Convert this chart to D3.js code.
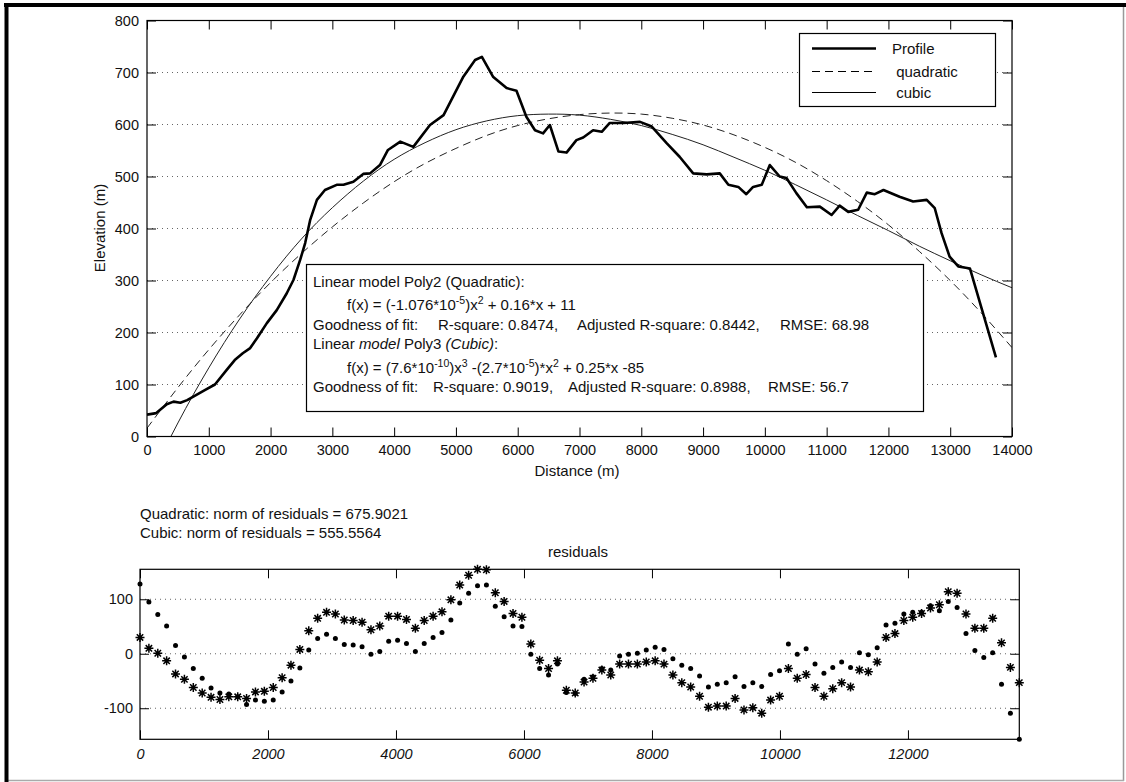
<!DOCTYPE html>
<html><head><meta charset="utf-8">
<script src="https://cdn.jsdelivr.net/npm/d3@7"></script>
<style>
html,body{margin:0;padding:0;background:#fff;}
text{font-family:"Liberation Sans",Arial,sans-serif;fill:#111;}
</style></head>
<body>
<svg id="chart" width="1126" height="782"></svg>
<script>
// ---------- data ----------
const profileDistance = [0,150,320,430,540,650,800,950,1100,1290,1420,1550,1670,1780,1940,2100,2260,2370,2480,2560,2640,2750,2880,3070,3180,3340,3500,3610,3770,3900,4100,4310,4580,4800,5120,5310,5420,5600,5820,5980,6140,6280,6410,6520,6660,6790,6950,7060,7220,7360,7490,7710,7980,8170,8410,8620,8840,9060,9270,9410,9570,9700,9810,9950,10080,10240,10350,10510,10680,10890,11080,11210,11350,11510,11650,11780,11920,12180,12400,12620,12750,12860,12990,13130,13320,13740];
const profileElevation = [42,45,62,67,65,70,80,90,100,128,147,160,170,189,218,243,275,301,340,372,416,455,474,484,484,490,505,506,522,551,567,557,599,618,692,724,730,692,670,665,615,589,583,599,548,546,570,575,589,586,603,603,605,596,564,538,506,504,506,484,480,466,480,484,522,500,497,468,441,442,426,444,432,436,469,466,474,461,452,455,439,391,346,327,323,152];

const fitDistance = [0,500,1000,1500,2000,2500,3000,3500,4000,4500,5000,5500,6000,6500,7000,7500,8000,8500,9000,9500,10000,10500,11000,11500,12000,12500,13000,13500,14000];
const quadraticFit = [16,94,167,234,296,352,403,449,490,525,554,579,598,611,619,622,620,612,599,580,556,527,492,452,407,356,300,238,171];
const cubicFit = [-92,26,132,226,308,380,440,491,533,565,590,607,617,620,618,610,598,581,561,537,512,484,455,425,396,366,338,311,286];

const residualDistance = [0,139,278,416,555,694,833,972,1110,1249,1388,1527,1665,1804,1943,2082,2221,2359,2498,2637,2776,2915,3053,3192,3331,3470,3609,3747,3886,4025,4164,4303,4441,4580,4719,4858,4996,5135,5274,5413,5552,5690,5829,5968,6107,6245,6384,6523,6662,6801,6939,7078,7217,7356,7495,7633,7772,7911,8050,8188,8327,8466,8605,8744,8882,9021,9160,9299,9438,9576,9715,9854,9993,10132,10270,10409,10548,10687,10825,10964,11103,11242,11381,11519,11658,11797,11936,12075,12213,12352,12491,12630,12768,12907,13046,13185,13324,13462,13601,13740];
const quadraticResiduals = [30,10,1,-13,-37,-47,-62,-72,-80,-84,-79,-79,-82,-70,-69,-62,-44,-21,8,42,65,76,73,62,61,58,44,51,69,69,63,47,61,69,77,99,126,144,155,154,112,96,74,67,18,-12,-27,-13,-67,-72,-52,-45,-30,-39,-19,-19,-19,-15,-13,-19,-39,-53,-61,-78,-98,-96,-96,-82,-103,-99,-109,-85,-78,-27,-45,-38,-62,-78,-64,-53,-61,-30,-33,-15,30,37,61,67,74,84,90,114,111,73,47,47,65,20,-25,-53];
const cubicResiduals = [128,95,72,51,15,-6,-27,-45,-63,-72,-74,-79,-93,-85,-87,-85,-70,-50,-26,7,28,36,28,17,16,13,-1,4,23,25,19,4,19,30,39,62,93,111,125,126,87,68,51,50,-1,-27,-39,-19,-71,-73,-47,-42,-27,-30,-4,-1,1,7,12,8,-9,-21,-27,-41,-61,-56,-53,-42,-60,-53,-60,-38,-31,18,-1,9,-19,-36,-25,-15,-25,2,-2,11,53,56,73,76,76,88,79,96,85,37,6,-7,2,-56,-109,-157];

const topXTicks = [0,1000,2000,3000,4000,5000,6000,7000,8000,9000,10000,11000,12000,13000,14000];
const topYTicks = [0,100,200,300,400,500,600,700,800];
const resXTicks = [0,2000,4000,6000,8000,10000,12000];
const resYTicks = [-100,0,100];

const legendLabels = ["Profile"," quadratic"," cubic"];
const normLines = ["Quadratic: norm of residuals = 675.9021","Cubic: norm of residuals = 555.5564"];

// ---------- drawing ----------
const svg = d3.select("#chart");
const F = 15;

// outer frame
svg.append("line").attr("x1",1123.5).attr("x2",1123.5).attr("y1",4).attr("y2",781).attr("stroke","#999").attr("stroke-width",1.5);
svg.append("line").attr("x1",5).attr("x2",1124).attr("y1",780.5).attr("y2",780.5).attr("stroke","#aaa").attr("stroke-width",1.5);
svg.append("line").attr("x1",4).attr("x2",1126).attr("y1",5).attr("y2",5).attr("stroke","#000").attr("stroke-width",4);
svg.append("line").attr("x1",6.5).attr("x2",6.5).attr("y1",3).attr("y2",782).attr("stroke","#000").attr("stroke-width",4);

// ---- top axes ----
const x = d3.scaleLinear().domain([0,14000]).range([147,1012]);
const y = d3.scaleLinear().domain([0,800]).range([436.5,20.5]);

svg.append("clipPath").attr("id","clipTop").append("rect")
  .attr("x",147).attr("y",20.5).attr("width",865).attr("height",416);

const gTop = svg.append("g");
gTop.selectAll(".grid").data(topYTicks.filter(d=>d>0&&d<800)).join("line")
  .attr("x1",147).attr("x2",1012).attr("y1",d=>y(d)).attr("y2",d=>y(d))
  .attr("stroke","#666").attr("stroke-width",1).attr("stroke-dasharray","1,4");

const lines = gTop.append("g").attr("clip-path","url(#clipTop)");
const lineQ = d3.line().x((d,i)=>x(fitDistance[i])).y(d=>y(d)).curve(d3.curveNatural);
lines.append("path").datum(quadraticFit).attr("d",lineQ).attr("fill","none")
  .attr("stroke","#222").attr("stroke-width",1).attr("stroke-dasharray","8,5");
lines.append("path").datum(cubicFit).attr("d",lineQ).attr("fill","none")
  .attr("stroke","#222").attr("stroke-width",1);
const lineP = d3.line().x((d,i)=>x(profileDistance[i])).y(d=>y(d));
lines.append("path").datum(profileElevation).attr("d",lineP).attr("fill","none")
  .attr("stroke","#000").attr("stroke-width",2.6).attr("stroke-linejoin","round");

function styleAxis(g, italic){
  g.select(".domain").remove();
  g.selectAll(".tick line").attr("stroke","#000");
  g.selectAll("text").attr("font-size",14.5).attr("fill","#111")
    .attr("font-family","'Liberation Sans',Arial,sans-serif")
    .attr("font-style", italic ? "italic" : "normal");
}
const fmt = d => String(d);
svg.append("g").attr("transform","translate(0,436.5)")
  .call(d3.axisBottom(x).tickValues(topXTicks).tickSize(-9).tickPadding(8).tickFormat(fmt)).call(g=>styleAxis(g,false));
svg.append("g").attr("transform","translate(0,20.5)")
  .call(d3.axisTop(x).tickValues(topXTicks).tickSize(-9).tickFormat("")).call(g=>styleAxis(g,false));
svg.append("g").attr("transform","translate(147,0)")
  .call(d3.axisLeft(y).tickValues(topYTicks).tickSize(-9).tickPadding(8).tickFormat(fmt)).call(g=>styleAxis(g,false));
svg.append("g").attr("transform","translate(1012,0)")
  .call(d3.axisRight(y).tickValues(topYTicks).tickSize(-9).tickFormat("")).call(g=>styleAxis(g,false));
svg.append("rect").attr("x",147).attr("y",20.5).attr("width",865).attr("height",416)
  .attr("fill","none").attr("stroke","#000").attr("stroke-width",1.2);

// legend
const lg = svg.append("g");
lg.append("rect").attr("x",799.5).attr("y",33.5).attr("width",196).attr("height",73)
  .attr("fill","#fff").attr("stroke","#000").attr("stroke-width",1.2);
const legY = [48.5,71.5,92.5];
const legStyle = [{w:2.6,dash:null},{w:1,dash:"8,5"},{w:1,dash:null}];
legendLabels.forEach((t,i)=>{
  lg.append("line").attr("x1",812).attr("x2",876).attr("y1",legY[i]).attr("y2",legY[i])
    .attr("stroke","#000").attr("stroke-width",legStyle[i].w).attr("stroke-dasharray",legStyle[i].dash);
  lg.append("text").attr("x",892).attr("y",legY[i]+5).attr("font-size",F)
    .style("white-space","pre").text(t);
});

// fit text box
const tb = svg.append("g");
tb.append("rect").attr("x",306.5).attr("y",264.5).attr("width",617).attr("height",147)
  .attr("fill","#fff").attr("stroke","#000").attr("stroke-width",1.2);
function addText(xp, yp, parts){
  const t = tb.append("text").attr("x",xp).attr("y",yp).attr("font-size",F).style("white-space","pre");
  parts.forEach(p=>{
    const s = t.append("tspan").text(p.t);
    if(p.i) s.attr("font-style","italic");
    if(p.sup){ s.attr("font-size",10.5).attr("dy",-6); }
    if(p.after){ s.attr("dy",6); }
    if(p.x!==undefined) s.attr("x",p.x);
  });
}
addText(313,287,[{t:"Linear model Poly2 (Quadratic):"}]);
addText(347,310,[{t:"f(x) = (-1.076*10"},{t:"-5",sup:true},{t:")x",after:true},{t:"2",sup:true},{t:" + 0.16*x + 11",after:true}]);
addText(313,330,[{t:"Goodness of fit:"},{t:"R-square: 0.8474,",x:438},{t:"Adjusted R-square: 0.8442,",x:577},{t:"RMSE: 68.98",x:780}]);
addText(313,349,[{t:"Linear "},{t:"model",i:true},{t:" Poly3 "},{t:"(Cubic)",i:true},{t:":"}]);
addText(347,373,[{t:"f(x) = (7.6*10"},{t:"-10",sup:true},{t:")x",after:true},{t:"3",sup:true},{t:" -(2.7*10",after:true},{t:"-5",sup:true},{t:")*x",after:true},{t:"2",sup:true},{t:" + 0.25*x -85",after:true}]);
addText(313,392,[{t:"Goodness of fit:"},{t:"R-square: 0.9019,",x:433},{t:"Adjusted R-square: 0.8988,",x:568},{t:"RMSE: 56.7",x:768}]);

// axis labels
svg.append("text").attr("x",577).attr("y",476).attr("text-anchor","middle").attr("font-size",F).text("Distance (m)");
svg.append("text").attr("transform","translate(105,228) rotate(-90)").attr("text-anchor","middle").attr("font-size",F).text("Elevation (m)");

// norm text
normLines.forEach((t,i)=>{
  svg.append("text").attr("x",140).attr("y",519+i*19).attr("font-size",F).text(t);
});
svg.append("text").attr("x",578).attr("y",557).attr("text-anchor","middle").attr("font-size",F).text("residuals");

// ---- residual axes ----
const rx = d3.scaleLinear().domain([0,13740]).range([140,1019.3]);
const ry = d3.scaleLinear().domain([-157,155]).range([739.3,569.3]);
const gRes = svg.append("g");
gRes.selectAll(".rgrid").data(resYTicks).join("line")
  .attr("x1",140).attr("x2",1019.3).attr("y1",d=>ry(d)).attr("y2",d=>ry(d))
  .attr("stroke","#666").attr("stroke-width",1).attr("stroke-dasharray","1,4");

svg.append("g").attr("transform","translate(0,739.3)")
  .call(d3.axisBottom(rx).tickValues(resXTicks).tickSize(-9).tickPadding(9).tickFormat(fmt)).call(g=>styleAxis(g,true));
svg.append("g").attr("transform","translate(0,569.3)")
  .call(d3.axisTop(rx).tickValues(resXTicks).tickSize(-9).tickFormat("")).call(g=>styleAxis(g,false));
svg.append("g").attr("transform","translate(140,0)")
  .call(d3.axisLeft(ry).tickValues(resYTicks).tickSize(-9).tickPadding(7).tickFormat(fmt)).call(g=>styleAxis(g,false));
svg.append("g").attr("transform","translate(1019.3,0)")
  .call(d3.axisRight(ry).tickValues(resYTicks).tickSize(-9).tickFormat("")).call(g=>styleAxis(g,false));
svg.append("rect").attr("x",140).attr("y",569.3).attr("width",879.3).attr("height",170)
  .attr("fill","none").attr("stroke","#000").attr("stroke-width",1.2);

const star = "M-4.5,0H4.5M0,-4.5V4.5M-3.2,-3.2L3.2,3.2M-3.2,3.2L3.2,-3.2";
gRes.selectAll(".star").data(quadraticResiduals).join("path")
  .attr("transform",(d,i)=>`translate(${rx(residualDistance[i])},${ry(d)})`)
  .attr("d",star).attr("stroke","#000").attr("stroke-width",1.5).attr("fill","none");
gRes.selectAll(".dot").data(cubicResiduals).join("circle")
  .attr("cx",(d,i)=>rx(residualDistance[i])).attr("cy",d=>ry(d)).attr("r",2.5).attr("fill","#000");
</script>
</body></html>
